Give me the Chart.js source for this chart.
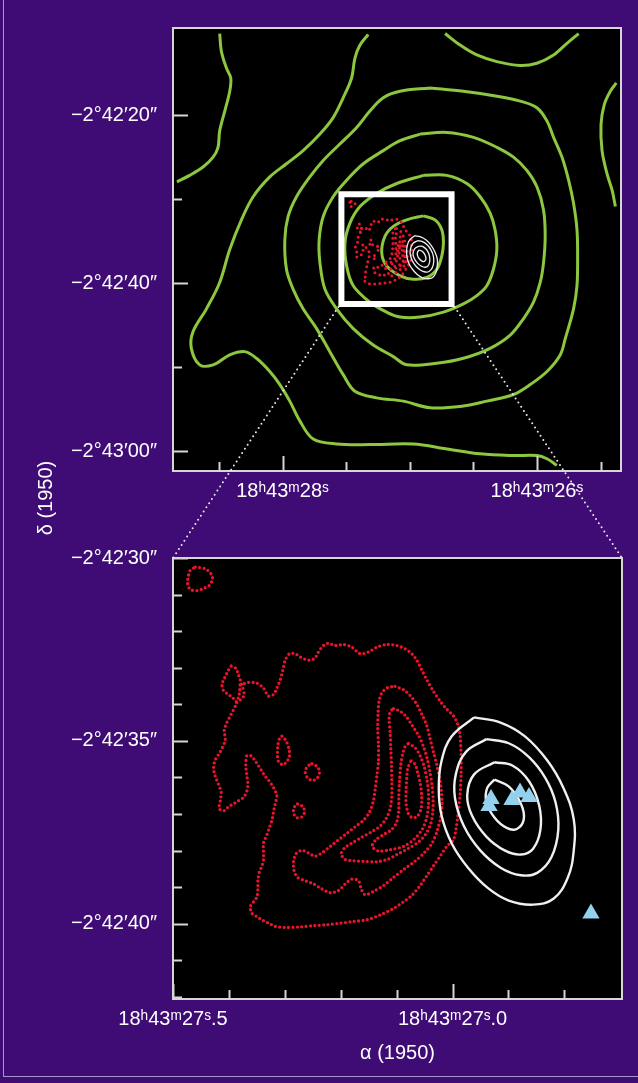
<!DOCTYPE html>
<html>
<head>
<meta charset="utf-8">
<script src="https://cdn.jsdelivr.net/npm/chart.js@4.4.0/dist/chart.umd.min.js"></script>
<style>
  html, body { margin: 0; padding: 0; background: #3e0c74; }
  #wrap { position: relative; width: 638px; height: 1083px; overflow: hidden; background: #3e0c74; }
  #edge { position: absolute; left: 3px; top: -2px; width: 640px; height: 1079px;
    border-left: 1px solid #a596cc; border-bottom: 1px solid #a596cc; box-sizing: border-box; }
  #topChart { position: absolute; left: 0; top: 0; }
  #zoomChart { position: absolute; left: 0; top: 530px; }
  #links { position: absolute; left: 0; top: 0; pointer-events: none; }
  #decTitle {
    position: absolute; left: -5px; top: 487px; width: 100px; height: 22px;
    line-height: 22px; text-align: center; color: #fff;
    font: 20px 'Liberation Sans', Arial, sans-serif;
    transform: rotate(-90deg); transform-origin: 50% 50%;
  }
</style>
</head>
<body>
<div id="wrap">
  <div id="edge"></div>
  <canvas id="topChart" width="638" height="530"></canvas>
  <canvas id="zoomChart" width="638" height="553"></canvas>
  <canvas id="links" width="638" height="1083"></canvas>
  <div id="decTitle">δ (1950)</div>
</div>
<script>
// axis ticks and labels (RA in seconds of 18h43m, Dec in arcsec below -2°42')
const topRaTicks = [28.5, 28.0, 27.5, 27.0, 26.5, 26.0, 25.5];
const topRaLabels = ['', '18ʰ43ᵐ28ˢ', '', '', '', '18ʰ43ᵐ26ˢ', ''];
const topDecTicks = [-20, -30, -40, -50, -60];
const topDecLabels = ['−2°42′20″', '', '−2°42′40″', '', '−2°43′00″'];

const zoomRaTicks = [27.5, 27.4, 27.3, 27.2, 27.1, 27.0, 26.9, 26.8];
const zoomRaLabels = ['18ʰ43ᵐ27ˢ.5', '', '', '', '', '18ʰ43ᵐ27ˢ.0', '', ''];
const zoomDecTicks = [-30, -31, -32, -33, -34, -35, -36, -37, -38, -39, -40, -41, -42];
const zoomDecLabels = ['−2°42′30″', '', '', '', '', '−2°42′35″', '', '', '', '', '−2°42′40″', '', ''];

// white box on the large map (zoomed region)
const boxRa = [27.537, 26.671];
const boxDec = [-29.44, -42.47];

// green contours (large map)
const greenA_ra = [28.494, 28.480, 28.441, 28.407, 28.415, 28.454, 28.494, 28.507, 28.546, 28.625, 28.730, 28.830];
const greenA_dec = [-10.31, -12.47, -14.42, -15.60, -17.18, -19.53, -21.88, -23.84, -25.01, -26.19, -27.18, -27.95];

const greenB_ra = [26.722, 26.604, 26.472, 26.315, 26.131, 26.000, 25.869, 25.764, 25.672];
const greenB_dec = [-10.31, -11.68, -12.86, -13.65, -14.12, -13.84, -12.86, -11.48, -10.31];

const greenC_ra = [25.376, 25.423, 25.470, 25.496, 25.488, 25.449, 25.409, 25.383];
const greenC_dec = [-16.19, -17.18, -18.74, -21.09, -24.24, -26.98, -28.94, -30.89];

const greenD_ra = [27.326, 27.391, 27.431, 27.457, 27.523, 27.602, 27.706, 27.838, 27.969, 28.100, 28.231, 28.323,
  28.415, 28.494, 28.598, 28.704, 28.717, 28.651, 28.546, 28.415, 28.297, 28.205, 28.100, 28.021, 27.943, 27.864,
  27.759, 27.575, 27.313, 26.972, 26.709, 26.446, 26.184, 26.000, 25.921, 25.843];
const greenD_dec = [-10.42, -11.68, -13.25, -15.60, -17.95, -20.31, -22.27, -24.24, -25.80, -27.36, -29.72, -32.47,
  -36.00, -39.92, -43.06, -45.80, -47.76, -49.72, -49.72, -48.54, -48.15, -48.94, -50.51, -52.07, -54.04, -56.39,
  -58.54, -59.13, -59.21, -59.13, -59.72, -60.31, -60.51, -60.51, -60.89, -61.68];

const greenE_ra = [26.840, 26.578, 26.315, 26.131, 26.000, 25.921, 25.869, 25.803, 25.751, 25.712, 25.685, 25.680,
  25.685, 25.712, 25.777, 25.817, 25.921, 26.053, 26.184, 26.394, 26.578, 26.840, 27.050, 27.260, 27.431, 27.523,
  27.628, 27.732, 27.838, 27.917, 27.969, 27.982, 27.956, 27.890, 27.785, 27.680, 27.549, 27.417, 27.313, 27.208, 27.076];
const greenE_dec = [-16.78, -17.18, -17.76, -18.35, -19.13, -20.71, -22.66, -25.01, -27.76, -30.51, -33.65, -36.78,
  -40.31, -43.06, -46.59, -48.54, -50.51, -52.07, -53.25, -54.04, -54.62, -54.82, -54.04, -53.65, -52.86, -50.89,
  -48.15, -45.41, -43.06, -40.71, -38.35, -34.82, -32.07, -29.72, -27.36, -25.41, -23.45, -21.48, -19.53, -17.95, -17.18];

const greenF_ra = [26.919, 26.709, 26.499, 26.315, 26.184, 26.079, 26.000, 25.948, 25.935, 25.948, 25.974, 26.027,
  26.106, 26.210, 26.368, 26.578, 26.787, 27.024, 27.129, 27.287, 27.444, 27.575, 27.667, 27.706, 27.712, 27.680,
  27.602, 27.496, 27.365, 27.208, 27.076];
const greenF_dec = [-22.27, -22.07, -22.66, -23.84, -25.01, -26.59, -28.54, -31.29, -34.42, -37.56, -39.92, -42.27,
  -44.24, -46.19, -47.76, -48.94, -49.53, -49.72, -48.74, -47.36, -45.41, -43.06, -40.71, -37.56, -34.82, -32.07,
  -29.72, -27.76, -25.80, -24.24, -23.06];

const greenG_ra = [26.893, 26.709, 26.551, 26.446, 26.368, 26.329, 26.315, 26.342, 26.394, 26.472, 26.578, 26.735,
  26.919, 27.076, 27.181, 27.313, 27.444, 27.496, 27.509, 27.470, 27.391, 27.260, 27.102];
const greenG_dec = [-27.18, -27.18, -28.15, -29.72, -31.68, -33.65, -36.00, -38.35, -40.31, -41.48, -42.47, -43.45,
  -44.04, -44.04, -43.45, -42.27, -40.31, -37.95, -35.21, -32.86, -30.89, -29.33, -28.15];

const greenH_ra = [26.893, 26.801, 26.748, 26.735, 26.748, 26.787, 26.866, 26.972, 27.076, 27.181, 27.220, 27.194, 27.129, 27.024];
const greenH_dec = [-32.00, -32.47, -33.65, -35.21, -36.78, -38.35, -39.33, -39.53, -39.13, -37.95, -36.39, -34.42, -33.25, -32.47];

// red dotted contours
const red1_ra = [27.4602, 27.4424, 27.4322, 27.4293, 27.4347, 27.4454, 27.4572, 27.4692, 27.4740, 27.4722, 27.4692];
const red1_dec = [-30.249, -30.295, -30.429, -30.563, -30.742, -30.831, -30.892, -30.857, -30.697, -30.474, -30.340];

const red2_ra = [27.3798, 27.3650, 27.3500, 27.3382, 27.3292, 27.3203, 27.3142, 27.3083, 27.3035, 27.2994,
  27.2917, 27.2815, 27.2726, 27.2636, 27.2547, 27.2458, 27.2399, 27.2309, 27.2220, 27.2100,
  27.1952, 27.1802, 27.1653, 27.1505, 27.1355, 27.1176, 27.0997, 27.0849, 27.0729, 27.0640,
  27.0551, 27.0461, 27.0343, 27.0223, 27.0104, 26.9986, 26.9911, 26.9866, 26.9848, 26.9848,
  26.9866, 26.9902, 26.9937, 26.9986, 27.0104, 27.0223, 27.0343, 27.0461, 27.0581, 27.0729,
  27.0879, 27.1058, 27.1296, 27.1534, 27.1773, 27.2011, 27.2248, 27.2488, 27.2726, 27.2994,
  27.3173, 27.3292, 27.3410, 27.3500, 27.3589, 27.3619, 27.3560, 27.3500, 27.3482, 27.3482,
  27.3458, 27.3410, 27.3382, 27.3382, 27.3382, 27.3321, 27.3280, 27.3231, 27.3203, 27.3173,
  27.3142, 27.3203, 27.3280, 27.3351, 27.3410, 27.3482, 27.3542, 27.3601, 27.3678, 27.3696,
  27.3696, 27.3678, 27.3660, 27.3678, 27.3739, 27.3828, 27.3918, 27.4007, 27.4079, 27.4173,
  27.4155, 27.4138, 27.4186, 27.4245, 27.4275, 27.4245, 27.4155, 27.4066, 27.4084, 27.4048,
  27.3989, 27.3929, 27.3870, 27.3816];
const red2_dec = [-33.465, -33.403, -33.422, -33.556, -33.778, -33.733, -33.556, -33.331, -33.063, -32.795,
  -32.618, -32.618, -32.706, -32.768, -32.795, -32.733, -32.572, -32.393, -32.331, -32.393,
  -32.366, -32.438, -32.618, -32.572, -32.438, -32.366, -32.393, -32.484, -32.618, -32.795,
  -33.063, -33.331, -33.644, -33.912, -34.135, -34.314, -34.528, -34.850, -35.386, -35.922,
  -36.458, -36.994, -37.395, -37.709, -37.886, -38.154, -38.422, -38.690, -38.958, -39.226,
  -39.405, -39.585, -39.762, -39.895, -39.941, -39.987, -40.029, -40.056, -40.088, -40.102,
  -40.075, -39.987, -39.895, -39.807, -39.719, -39.539, -39.405, -39.271, -39.049, -38.824,
  -38.601, -38.422, -38.245, -38.020, -37.797, -37.575, -37.395, -37.173, -36.948, -36.726,
  -36.503, -36.278, -36.101, -35.967, -35.833, -35.654, -35.520, -35.413, -35.405, -35.565,
  -35.742, -35.967, -36.190, -36.369, -36.546, -36.637, -36.726, -36.798, -36.905, -36.860,
  -36.637, -36.412, -36.190, -35.967, -35.742, -35.520, -35.297, -34.984, -34.716, -34.536,
  -34.360, -34.180, -34.001, -33.725];

const red3_ra = [27.3959, 27.3875, 27.3828, 27.3786, 27.3727, 27.3786, 27.3870, 27.3929, 27.4007, 27.4097, 27.4125, 27.4079, 27.4025];
const red3_dec = [-32.956, -33.020, -33.197, -33.395, -33.733, -33.867, -33.931, -33.824, -33.733, -33.625, -33.465, -33.288, -33.108];

const red4_ra = [27.3053, 27.2976, 27.2922, 27.2917, 27.2963, 27.3035, 27.3114, 27.3131, 27.3124, 27.3096];
const red4_dec = [-34.869, -35.003, -35.252, -35.431, -35.565, -35.654, -35.565, -35.340, -35.118, -34.938];

const red5_ra = [27.2517, 27.2428, 27.2380, 27.2416, 27.2505, 27.2595, 27.2636, 27.2595];
const red5_dec = [-35.627, -35.699, -35.833, -36.011, -36.083, -36.011, -35.850, -35.699];

const red6_ra = [27.2773, 27.2678, 27.2648, 27.2696, 27.2785, 27.2845, 27.2833];
const red6_dec = [-36.726, -36.797, -36.949, -37.083, -37.101, -36.976, -36.815];

const red7_ra = [27.1028, 27.0879, 27.0748, 27.0640, 27.0551, 27.0462, 27.0402, 27.0343, 27.0283, 27.0235,
  27.0200, 27.0188, 27.0212, 27.0271, 27.0366, 27.0509, 27.0670, 27.0867, 27.1057, 27.1236,
  27.1415, 27.1564, 27.1635, 27.1683, 27.1802, 27.1921, 27.2041, 27.2189, 27.2338, 27.2487,
  27.2636, 27.2773, 27.2833, 27.2845, 27.2797, 27.2696, 27.2577, 27.2458, 27.2338, 27.2189,
  27.2041, 27.1892, 27.1743, 27.1594, 27.1486, 27.1415, 27.1385, 27.1355, 27.1326, 27.1326,
  27.1338, 27.1332, 27.1314, 27.1266, 27.1165];
const red7_dec = [-33.510, -33.600, -33.778, -34.002, -34.269, -34.582, -34.939, -35.297, -35.654, -36.011,
  -36.368, -36.726, -37.083, -37.440, -37.797, -38.065, -38.289, -38.512, -38.735, -38.959,
  -39.119, -39.209, -39.048, -38.825, -38.780, -38.914, -39.093, -39.155, -39.048, -38.914,
  -38.825, -38.735, -38.557, -38.289, -38.083, -37.994, -38.065, -38.155, -38.065, -37.887,
  -37.708, -37.530, -37.351, -37.172, -36.949, -36.636, -36.324, -35.966, -35.565, -35.118,
  -34.671, -34.225, -33.912, -33.689, -33.546];

const red8_ra = [27.1058, 27.0938, 27.0831, 27.0730, 27.0610, 27.0519, 27.0449, 27.0402, 27.0366, 27.0348,
  27.0354, 27.0390, 27.0471, 27.0600, 27.0787, 27.0986, 27.1165, 27.1355, 27.1564, 27.1772,
  27.1921, 27.1993, 27.1933, 27.1802, 27.1624, 27.1445, 27.1296, 27.1189, 27.1117, 27.1087,
  27.1087, 27.1093, 27.1105, 27.1117, 27.1135, 27.1117];
const red8_dec = [-34.118, -34.189, -34.332, -34.564, -34.850, -35.163, -35.520, -35.877, -36.234, -36.592,
  -36.949, -37.262, -37.530, -37.753, -37.940, -38.101, -38.244, -38.307, -38.298, -38.280,
  -38.244, -38.092, -37.931, -37.797, -37.637, -37.485, -37.333, -37.128, -36.860, -36.502,
  -36.100, -35.654, -35.207, -34.761, -34.403, -34.207];

const red9_ra = [27.0789, 27.0670, 27.0581, 27.0509, 27.0462, 27.0432, 27.0432, 27.0462, 27.0551, 27.0700,
  27.0879, 27.1105, 27.1326, 27.1439, 27.1373, 27.1236, 27.1087, 27.0998, 27.0962, 27.0962,
  27.0950, 27.0926, 27.0891, 27.0843];
const red9_dec = [-35.073, -35.189, -35.404, -35.699, -36.029, -36.386, -36.744, -37.101, -37.440, -37.708,
  -37.887, -37.976, -38.012, -37.887, -37.708, -37.565, -37.423, -37.217, -36.904, -36.547,
  -36.100, -35.654, -35.341, -35.136];

const red10_ra = [27.0742, 27.0672, 27.0623, 27.0575, 27.0551, 27.0563, 27.0631, 27.0722, 27.0789, 27.0831, 27.0831, 27.0819, 27.0801];
const red10_dec = [-35.547, -35.636, -35.877, -36.190, -36.547, -36.860, -37.065, -37.101, -36.994, -36.726, -36.368, -36.011, -35.743];

// white contours
const white1_ra = [26.9615, 26.9142, 26.8705, 26.8305, 26.8015, 26.7833, 26.7833, 26.7942, 26.8196, 26.8560, 26.8996, 26.9360, 26.9724, 27.0015, 27.0196, 27.0247, 27.0196, 27.0015];
const white1_dec = [-34.357, -34.499, -34.877, -35.539, -36.295, -37.146, -37.996, -38.752, -39.319, -39.480, -39.367, -39.036, -38.469, -37.807, -37.051, -36.295, -35.539, -34.877];
const white2_ra = [26.9396, 26.8996, 26.8633, 26.8342, 26.8160, 26.8109, 26.8233, 26.8487, 26.8778, 26.9142, 26.9505, 26.9796, 26.9956, 26.9942, 26.9760];
const white2_dec = [-34.953, -35.066, -35.444, -36.011, -36.673, -37.429, -38.185, -38.611, -38.677, -38.469, -37.996, -37.335, -36.578, -35.917, -35.302];
const white3_ra = [26.9251, 26.8924, 26.8633, 26.8451, 26.8429, 26.8560, 26.8778, 26.9069, 26.9396, 26.9651, 26.9738, 26.9615];
const white3_dec = [-35.586, -35.681, -36.106, -36.767, -37.429, -37.949, -38.110, -37.996, -37.618, -37.051, -36.484, -35.917];
const white4_ra = [26.9251, 26.8996, 26.8778, 26.8727, 26.8851, 26.9033, 26.9251, 26.9396, 26.9382];
const white4_dec = [-36.059, -36.248, -36.720, -37.146, -37.410, -37.382, -37.098, -36.673, -36.295];

// triangles
const triRa = [26.9312, 26.9348, 26.8937, 26.8794, 26.8633, 26.7525];
const triDec = [-36.592, -36.779, -36.618, -36.412, -36.538, -39.719];

const GREEN = '#8dc63f';
const RED = '#e8142c';
const WHITE = '#f0f0f0';
const CYAN = '#93d1ef';

Chart.defaults.font.family = "'Liberation Sans', Arial, sans-serif";
Chart.defaults.font.size = 20;
Chart.defaults.color = '#ffffff';

function pts(ra, dec, closed) {
  const out = ra.map((x, i) => ({ x: x, y: dec[i] }));
  if (closed) out.push({ x: ra[0], y: dec[0] });
  return out;
}

function greenLine(ra, dec, closed) {
  return { data: pts(ra, dec, closed), showLine: true, borderColor: GREEN, borderWidth: 3,
    pointRadius: 0, tension: 0.35, order: 5 };
}

function redDots(ra, dec, width, gap) {
  return { data: pts(ra, dec, true), showLine: true, borderColor: RED, borderWidth: width,
    borderDash: [0, gap], borderCapStyle: 'round', pointRadius: 0, tension: 0.3, order: 3 };
}

function whiteRing(ra, dec, width) {
  return { data: pts(ra, dec, true), showLine: true, borderColor: WHITE, borderWidth: width,
    pointRadius: 0, tension: 0.4, order: 2 };
}

const redSets = [
  [red1_ra, red1_dec], [red2_ra, red2_dec], [red3_ra, red3_dec], [red4_ra, red4_dec], [red5_ra, red5_dec],
  [red6_ra, red6_dec], [red7_ra, red7_dec], [red8_ra, red8_dec], [red9_ra, red9_dec], [red10_ra, red10_dec]
];
const whiteSets = [[white1_ra, white1_dec], [white2_ra, white2_dec], [white3_ra, white3_dec], [white4_ra, white4_dec]];

// black plot area, light frame and inward tick marks
const frameTicks = {
  id: 'frameTicks',
  beforeDatasetsDraw(chart) {
    const { ctx, chartArea: a } = chart;
    ctx.save();
    ctx.fillStyle = '#000000';
    ctx.fillRect(a.left, a.top, a.right - a.left, a.bottom - a.top);
    ctx.restore();
  },
  afterDraw(chart, args, opts) {
    const { ctx, chartArea: a, scales } = chart;
    ctx.save();
    ctx.strokeStyle = '#d6d6d6';
    ctx.lineWidth = 2;
    ctx.strokeRect(a.left, a.top, a.right - a.left, a.bottom - a.top);
    ctx.beginPath();
    scales.x.ticks.forEach(t => {
      const px = Math.round(scales.x.getPixelForValue(t.value)) + 0.5;
      const len = t.label ? opts.major : opts.minor;
      ctx.moveTo(px, a.bottom);
      ctx.lineTo(px, a.bottom - len);
    });
    scales.y.ticks.forEach(t => {
      const py = Math.round(scales.y.getPixelForValue(t.value)) + 0.5;
      const len = t.label ? opts.major : opts.minor;
      ctx.moveTo(a.left, py);
      ctx.lineTo(a.left + len, py);
    });
    ctx.stroke();
    ctx.restore();
  }
};

function axis(min, max, reverse, tickVals, tickLabels, fit, pad) {
  return {
    type: 'linear', min: min, max: max, reverse: reverse,
    grid: { display: false, drawTicks: false },
    border: { display: false },
    afterBuildTicks: s => { s.ticks = tickVals.map(v => ({ value: v })); },
    afterFit: fit,
    ticks: { autoSkip: false, maxRotation: 0, minRotation: 0, padding: pad, color: '#ffffff',
      callback: (v, i) => tickLabels[i] }
  };
}

// ---- large map ----
const topDatasets = [
  greenLine(greenA_ra, greenA_dec, false),
  greenLine(greenB_ra, greenB_dec, false),
  greenLine(greenC_ra, greenC_dec, false),
  greenLine(greenD_ra, greenD_dec, false),
  greenLine(greenE_ra, greenE_dec, true),
  greenLine(greenF_ra, greenF_dec, true),
  greenLine(greenG_ra, greenG_dec, true),
  greenLine(greenH_ra, greenH_dec, true),
  {
    data: [
      { x: boxRa[0], y: boxDec[0] }, { x: boxRa[1], y: boxDec[0] },
      { x: boxRa[1], y: boxDec[1] }, { x: boxRa[0], y: boxDec[1] }, { x: boxRa[0], y: boxDec[0] }
    ],
    showLine: true, borderColor: '#ffffff', borderWidth: 6, borderJoinStyle: 'miter',
    borderCapStyle: 'square', pointRadius: 0, tension: 0, order: 4
  }
];
redSets.forEach(s => topDatasets.push(redDots(s[0], s[1], 3.0, 5.2)));
whiteSets.forEach(s => topDatasets.push(whiteRing(s[0], s[1], 1.3)));

const topChart = new Chart(document.getElementById('topChart'), {
  type: 'scatter',
  data: { datasets: topDatasets },
  options: {
    responsive: false, animation: false, events: [], devicePixelRatio: 1,
    layout: { padding: { left: 0, top: 23, right: 17, bottom: 0 } },
    plugins: { legend: { display: false }, tooltip: { enabled: false }, frameTicks: { major: 15, minor: 9 } },
    scales: {
      x: axis(25.339, 28.861, true, topRaTicks, topRaLabels, s => { s.height = 59; }, 8),
      y: axis(-62.35, -9.65, false, topDecTicks, topDecLabels, s => { s.width = 173; }, 16)
    }
  },
  plugins: [frameTicks]
});

// ---- zoomed map ----
const zoomDatasets = [];
redSets.forEach(s => zoomDatasets.push(redDots(s[0], s[1], 3.3, 4.4)));
whiteSets.forEach(s => zoomDatasets.push(whiteRing(s[0], s[1], 2.4)));
zoomDatasets.push({
  data: pts(triRa, triDec, false), showLine: false, pointStyle: 'triangle', pointRadius: 10,
  backgroundColor: CYAN, borderColor: CYAN, borderWidth: 0, order: 0
});

const zoomX = axis(26.697, 27.5, true, zoomRaTicks, zoomRaLabels, s => { s.height = 84; }, 8);
zoomX.title = { display: true, text: 'α (1950)', color: '#ffffff', font: { size: 20 }, padding: { top: 0, bottom: 18 } };

const zoomChart = new Chart(document.getElementById('zoomChart'), {
  type: 'scatter',
  data: { datasets: zoomDatasets },
  options: {
    responsive: false, animation: false, events: [], devicePixelRatio: 1,
    layout: { padding: { left: 0, top: 18, right: 16, bottom: 0 } },
    plugins: { legend: { display: false }, tooltip: { enabled: false }, frameTicks: { major: 15, minor: 9 } },
    scales: {
      x: zoomX,
      y: axis(-42.06, -30.0, false, zoomDecTicks, zoomDecLabels, s => { s.width = 173; }, 16)
    }
  },
  plugins: [frameTicks]
});

// ---- dotted lines from the box to the zoomed panel ----
(function drawLinks() {
  const ctx = document.getElementById('links').getContext('2d');
  const sx = topChart.scales.x, sy = topChart.scales.y;
  const offTop = 530;
  const za = zoomChart.chartArea;
  const bl = { x: sx.getPixelForValue(boxRa[0]) - 3, y: sy.getPixelForValue(boxDec[1]) + 3 };
  const br = { x: sx.getPixelForValue(boxRa[1]) + 3, y: sy.getPixelForValue(boxDec[1]) + 3 };
  ctx.strokeStyle = '#e8e8e8';
  ctx.lineWidth = 2;
  ctx.lineCap = 'round';
  ctx.setLineDash([0, 5]);
  ctx.beginPath();
  ctx.moveTo(bl.x, bl.y);
  ctx.lineTo(za.left, za.top + offTop);
  ctx.moveTo(br.x, br.y);
  ctx.lineTo(za.right, za.top + offTop);
  ctx.stroke();
})();
</script>
</body>
</html>
